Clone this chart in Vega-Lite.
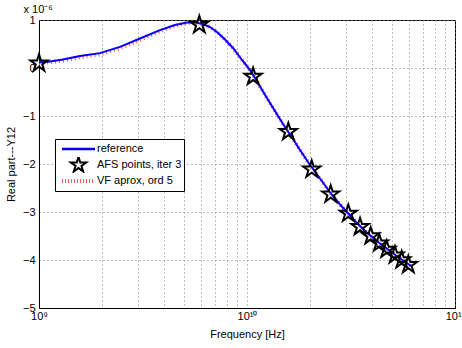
{
  "$schema": "https://vega.github.io/schema/vega-lite/v6.json",
  "width": 416,
  "height": 288,
  "autosize": {"type": "none"},
  "padding": {"left": 39, "top": 20, "right": 7, "bottom": 40},
  "title": {"text": "x 10⁻⁶", "anchor": "start", "dx": 18, "dy": 9, "offset": 6, "fontSize": 11, "fontWeight": "normal", "font": "Liberation Sans", "color": "black"},
  "config": {
    "font": "Liberation Sans",
    "view": {"stroke": "black", "strokeWidth": 1},
    "axis": {
      "labelFont": "Liberation Sans", "labelFontSize": 11, "labelColor": "black",
      "titleFont": "Liberation Sans", "titleFontSize": 11, "titleFontWeight": "normal", "titleColor": "black",
      "domainColor": "black", "tickColor": "black",
      "gridColor": "#808080", "gridDash": [1, 3], "gridOpacity": 1, "gridWidth": 1
    },
    "legend": {
      "labelFont": "Liberation Sans", "labelFontSize": 11, "labelColor": "black"
    }
  },
  "datasets": {
    "ref": [
      {"f": 1e9, "v": 0.115}, {"f": 1.129e9, "v": 0.135}, {"f": 1.304e9, "v": 0.177}, {"f": 1.574e9, "v": 0.25},
      {"f": 1.965e9, "v": 0.31}, {"f": 2.451e9, "v": 0.44}, {"f": 3.059e9, "v": 0.615}, {"f": 3.816e9, "v": 0.79},
      {"f": 4.506e9, "v": 0.896}, {"f": 5.147e9, "v": 0.946}, {"f": 5.623e9, "v": 0.946}, {"f": 6.143e9, "v": 0.917},
      {"f": 6.638e9, "v": 0.854}, {"f": 7.176e9, "v": 0.75}, {"f": 7.839e9, "v": 0.594}, {"f": 8.564e9, "v": 0.417},
      {"f": 9.463e9, "v": 0.167}, {"f": 1.034e10, "v": -0.042}, {"f": 1.129e10, "v": -0.313}, {"f": 1.234e10, "v": -0.594},
      {"f": 1.363e10, "v": -0.896}, {"f": 1.49e10, "v": -1.167}, {"f": 1.646e10, "v": -1.448}, {"f": 1.798e10, "v": -1.708},
      {"f": 1.965e10, "v": -1.958}, {"f": 2.147e10, "v": -2.188}, {"f": 2.346e10, "v": -2.417}, {"f": 2.563e10, "v": -2.646},
      {"f": 2.8e10, "v": -2.844}, {"f": 3.059e10, "v": -3.027}, {"f": 3.342e10, "v": -3.208}, {"f": 3.652e10, "v": -3.375},
      {"f": 3.99e10, "v": -3.521}, {"f": 4.359e10, "v": -3.656}, {"f": 4.763e10, "v": -3.781}, {"f": 5.204e10, "v": -3.906},
      {"f": 5.685e10, "v": -4.021}, {"f": 6.146e10, "v": -4.125}
    ],
    "vf": [
      {"f": 1e9, "v": 0.1}, {"f": 1.129e9, "v": 0.12}, {"f": 1.304e9, "v": 0.155}, {"f": 1.574e9, "v": 0.225},
      {"f": 1.965e9, "v": 0.285}, {"f": 2.451e9, "v": 0.41}, {"f": 3.059e9, "v": 0.585}, {"f": 3.816e9, "v": 0.765},
      {"f": 4.506e9, "v": 0.88}, {"f": 5.147e9, "v": 0.94}, {"f": 5.623e9, "v": 0.946}, {"f": 6.143e9, "v": 0.917},
      {"f": 6.638e9, "v": 0.854}, {"f": 7.176e9, "v": 0.75}, {"f": 7.839e9, "v": 0.594}, {"f": 8.564e9, "v": 0.417},
      {"f": 9.463e9, "v": 0.167}, {"f": 1.034e10, "v": -0.042}, {"f": 1.129e10, "v": -0.313}, {"f": 1.234e10, "v": -0.594},
      {"f": 1.363e10, "v": -0.896}, {"f": 1.49e10, "v": -1.167}, {"f": 1.646e10, "v": -1.448}, {"f": 1.798e10, "v": -1.708},
      {"f": 1.965e10, "v": -1.958}, {"f": 2.147e10, "v": -2.188}, {"f": 2.346e10, "v": -2.417}, {"f": 2.563e10, "v": -2.646},
      {"f": 2.8e10, "v": -2.844}, {"f": 3.059e10, "v": -3.027}, {"f": 3.342e10, "v": -3.208}, {"f": 3.652e10, "v": -3.375},
      {"f": 3.99e10, "v": -3.521}, {"f": 4.359e10, "v": -3.656}, {"f": 4.763e10, "v": -3.781}, {"f": 5.204e10, "v": -3.906},
      {"f": 5.685e10, "v": -4.021}, {"f": 6.146e10, "v": -4.125}
    ],
    "afs": [
      {"f": 1e9, "v": 0.098}, {"f": 5.9e9, "v": 0.9}, {"f": 1.07e10, "v": -0.18}, {"f": 1.58e10, "v": -1.33},
      {"f": 2.047e10, "v": -2.11}, {"f": 2.526e10, "v": -2.63}, {"f": 3.069e10, "v": -3.03}, {"f": 3.495e10, "v": -3.31},
      {"f": 3.933e10, "v": -3.5}, {"f": 4.325e10, "v": -3.65}, {"f": 4.694e10, "v": -3.78}, {"f": 5.146e10, "v": -3.9},
      {"f": 5.543e10, "v": -4.0}, {"f": 5.964e10, "v": -4.1}
    ]
  },
  "layer": [
    {
      "data": {"name": "vf"},
      "mark": {"type": "line", "strokeWidth": 4, "strokeDash": [1, 3], "clip": true},
      "encoding": {
        "x": {
          "field": "f", "type": "quantitative",
          "scale": {"type": "log", "domain": [1e9, 1e11], "nice": false},
          "axis": {
            "title": "Frequency [Hz]", "titlePadding": 7,
            "values": [1e9, 2e9, 3e9, 4e9, 5e9, 6e9, 7e9, 8e9, 9e9, 1e10, 2e10, 3e10, 4e10, 5e10, 6e10, 7e10, 8e10, 9e10, 1e11],
            "labelExpr": "datum.value == 1e9 ? '10⁹' : (datum.value == 1e10 ? '10¹⁰' : (datum.value == 1e11 ? '10¹¹' : ''))",
            "grid": true, "ticks": false, "labelPadding": 2, "labelFlush": false, "labelOverlap": false
          }
        },
        "y": {
          "field": "v", "type": "quantitative",
          "scale": {"domain": [-5, 1], "nice": false, "zero": false},
          "axis": {
            "title": "Real part---Y12", "titlePadding": 6,
            "values": [-5, -4, -3, -2, -1, 0, 1],
            "labelExpr": "datum.value < 0 ? '−' + abs(datum.value) : '' + datum.value",
            "grid": true, "ticks": false, "labelPadding": 4
          }
        },
        "color": {
          "datum": "VF aprox, ord 5",
          "type": "nominal",
          "scale": {"domain": ["reference", "AFS points, iter 3", "VF aprox, ord 5"], "range": ["#0000ff", "#000000", "#ff5a5a"]},
          "legend": {
            "title": null, "orient": "none", "legendX": 16, "legendY": 119,
            "strokeColor": "black", "fillColor": "white", "padding": 2, "cornerRadius": 0,
            "symbolSize": 100, "rowPadding": 0, "clipHeight": 16, "symbolOffset": 16, "labelOffset": 13,
            "encode": {
              "symbols": {
                "update": {
                  "shape": {"signal": "datum.value === 'AFS points, iter 3' ? 'M0,-1.6L0.36,-0.494L1.522,-0.494L0.581,0.189L0.941,1.294L0,0.611L-0.941,1.294L-0.581,0.189L-1.522,-0.494L-0.36,-0.494Z' : 'M-3.3,0L3.3,0'"},
                  "size": {"value": 100},
                  "strokeDash": {"signal": "datum.value === 'VF aprox, ord 5' ? [1, 2] : [1, 0]"},
                  "strokeWidth": {"signal": "datum.value === 'VF aprox, ord 5' ? 4 : (datum.value === 'reference' ? 2.5 : 2)"},
                  "stroke": {"scale": "color", "field": "value"},
                  "fill": {"value": "transparent"},
                  "opacity": {"value": 1}
                }
              }
            }
          }
        }
      }
    },
    {
      "data": {"name": "ref"},
      "mark": {"type": "line", "strokeWidth": 2, "clip": true},
      "encoding": {
        "x": {"field": "f", "type": "quantitative"},
        "y": {"field": "v", "type": "quantitative"},
        "color": {"datum": "reference", "type": "nominal"}
      }
    },
    {
      "data": {"name": "afs"},
      "mark": {"type": "point", "shape": "M0,-1L0.225,-0.309L0.951,-0.309L0.363,0.118L0.588,0.809L0,0.382L-0.588,0.809L-0.363,0.118L-0.951,-0.309L-0.225,-0.309Z", "filled": false, "strokeWidth": 2, "size": 324, "opacity": 1},
      "encoding": {
        "x": {"field": "f", "type": "quantitative"},
        "y": {"field": "v", "type": "quantitative"},
        "color": {"datum": "AFS points, iter 3", "type": "nominal"}
      }
    }
  ]
}
